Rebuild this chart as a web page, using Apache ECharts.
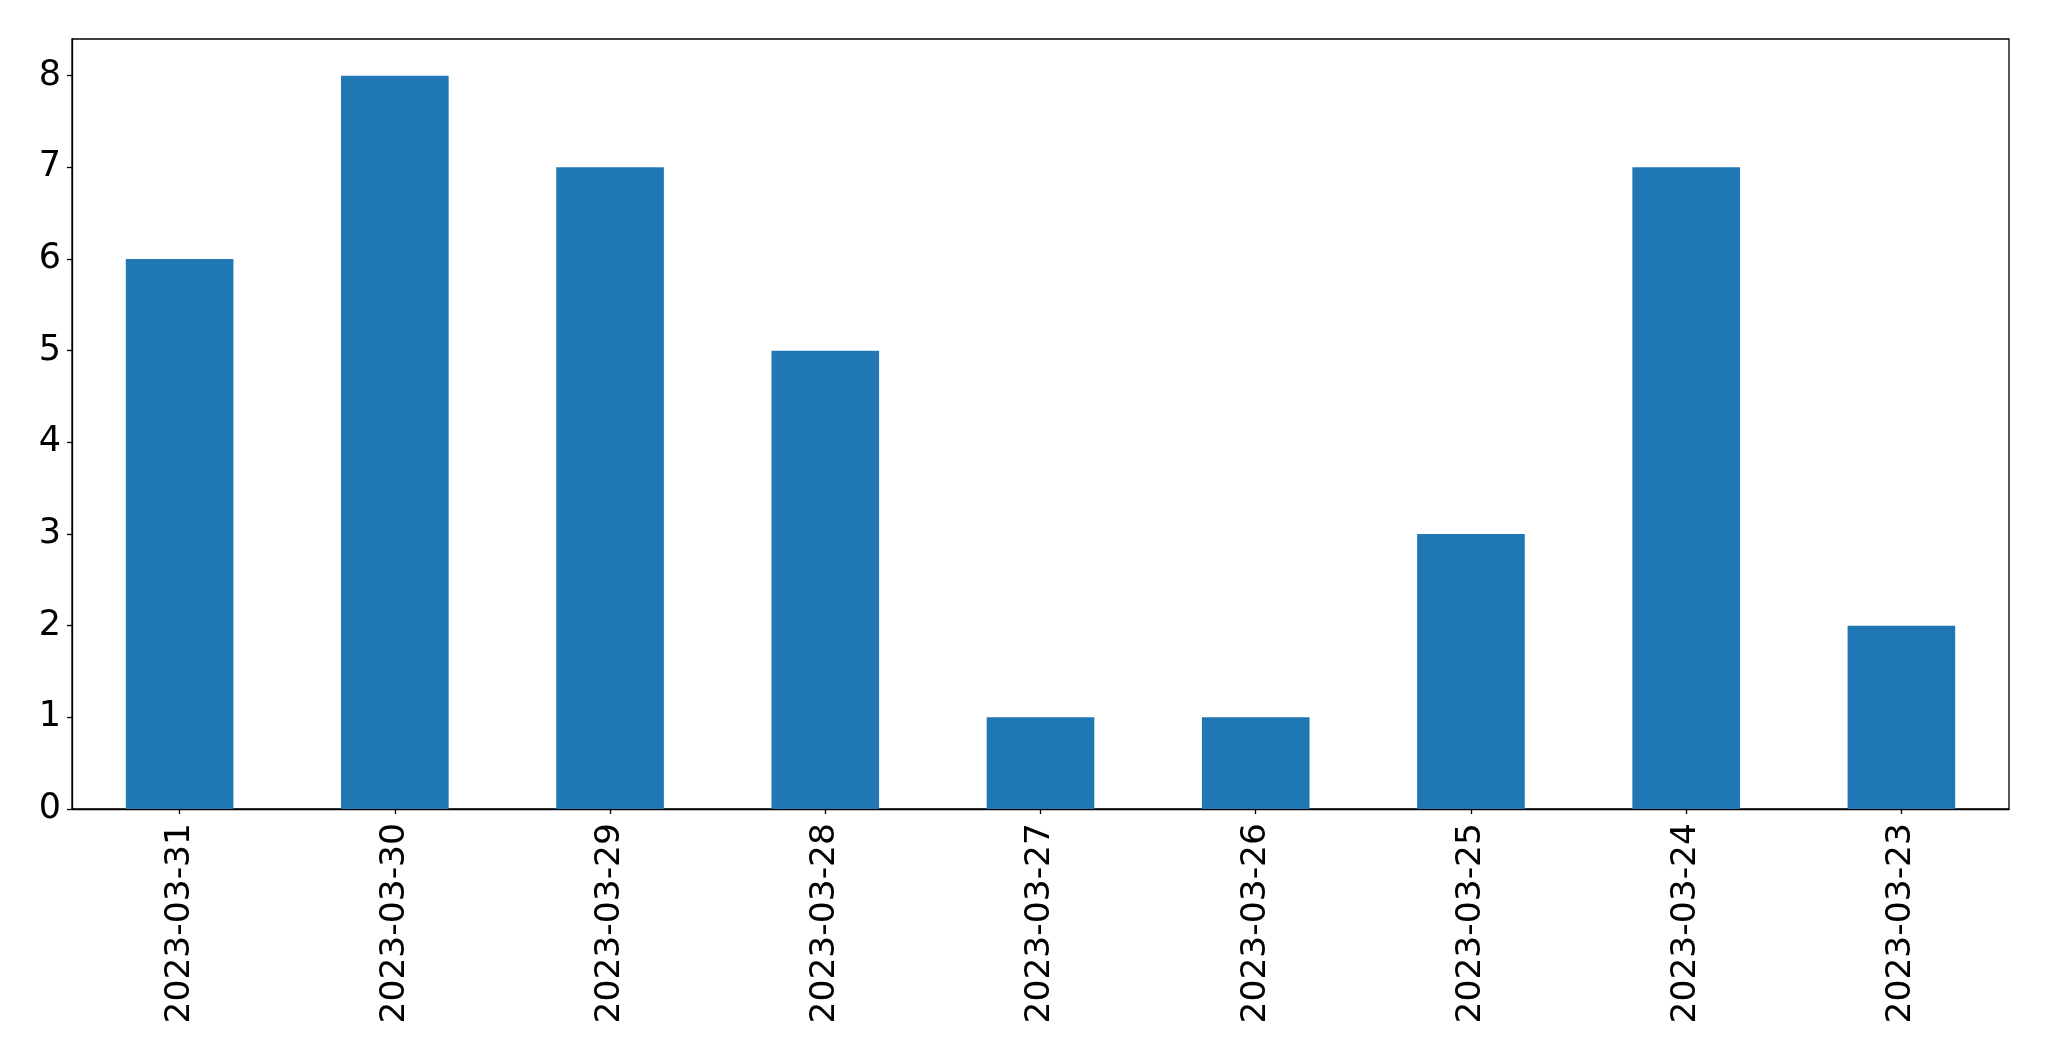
<!DOCTYPE html>
<html><head><meta charset="utf-8">
<script src="https://cdn.jsdelivr.net/npm/echarts@6/dist/echarts.min.js"></script>
<style>html,body{margin:0;padding:0;background:#fff}#c{width:2049px;height:1061px}</style>
</head><body><div id="c"></div>
<script>
const categories = ["2023-03-31","2023-03-30","2023-03-29","2023-03-28","2023-03-27","2023-03-26","2023-03-25","2023-03-24","2023-03-23"];
const values = [6, 8, 7, 5, 1, 1, 3, 7, 2];
const yTicks = [0, 1, 2, 3, 4, 5, 6, 7, 8];
const yMax = 8.4;

const chart = echarts.init(document.getElementById('c'), null, {renderer: 'canvas'});
chart.setOption({
  animation: false,
  backgroundColor: '#fff',
  grid: {left: 72, right: 40, top: 39, bottom: 252, show: true, borderColor: '#000', borderWidth: 1.3, backgroundColor: 'transparent'},
  xAxis: {
    type: 'category', data: categories, boundaryGap: true,
    axisLine: {show: true, lineStyle: {color: '#000', width: 1.3}},
    axisTick: {show: true, alignWithLabel: true, length: 5, lineStyle: {color: '#000', width: 1.3}},
    axisLabel: {rotate: 90, margin: 14, interval: 0, fontFamily: 'DejaVu Sans', fontSize: 34.5, color: '#000'},
    splitLine: {show: false}
  },
  yAxis: {
    type: 'value', min: 0, max: yMax,
    axisLine: {show: true, lineStyle: {color: '#000', width: 1.3}},
    axisTick: {show: true, length: 5, lineStyle: {color: '#000', width: 1.3}, customValues: yTicks},
    axisLabel: {margin: 11, customValues: yTicks, fontFamily: 'DejaVu Sans', fontSize: 35, color: '#000', padding: [3, 0, 0, 0]},
    splitLine: {show: false}
  },
  series: [{type: 'bar', data: values, barWidth: '50%', itemStyle: {color: '#1f77b4'}}]
});
</script></body></html>
